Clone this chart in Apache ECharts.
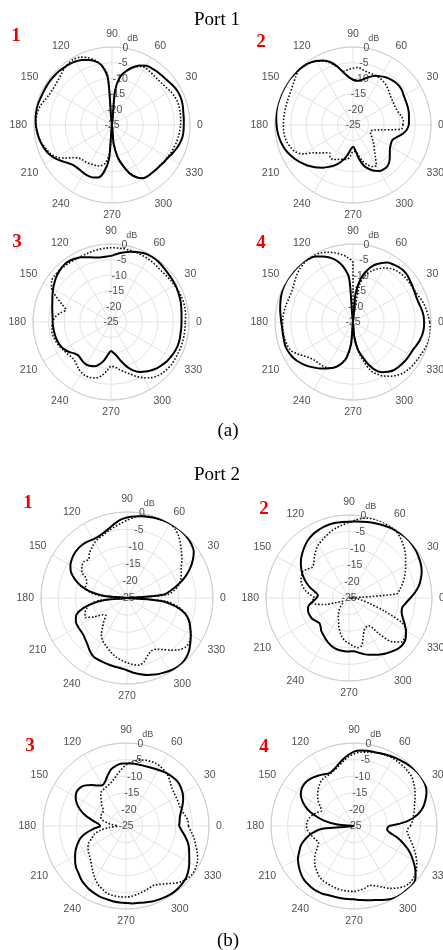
<!DOCTYPE html>
<html><head><meta charset="utf-8">
<script src="https://cdn.jsdelivr.net/npm/echarts@6/dist/echarts.min.js"></script>
<style>html,body{margin:0;padding:0;background:#fff}#c{width:443px;height:950px}</style>
</head><body><div id="c"></div>
<script>
// angle grid (degrees)
const thetaDeg = [0,5,10,15,20,25,30,35,40,45,50,55,60,65,70,75,80,85,90,95,100,105,110,115,120,125,130,135,140,145,150,155,160,165,170,175,180,185,190,195,200,205,210,215,220,225,230,235,240,245,250,255,260,265,270,275,280,285,290,295,300,305,310,315,320,325,330,335,340,345,350,355,360];
const thetaTickLabels = ['0','30','60','90','120','150','180','210','240','270','300','330'];
const rTickLabels = ['-25','-20','-15','-10','-5','0'];

// (a) Port 1
const a1Solid = [-2.0,-1.9,-1.8,-1.5,-1.3,-1.3,-1.5,-1.9,-2.3,-2.5,-2.6,-2.8,
-3.1,-4.0,-5.3,-7.0,-9.0,-14,-25,-10,-5.5,-3.8,-2.8,-2.0,
-1.5,-1.2,-1.0,-0.8,-0.7,-0.6,-0.6,-0.6,-0.5,-0.3,-0.3,-0.4,
-0.6,-0.9,-1.2,-1.6,-2.1,-2.8,-3.8,-5.0,-6.2,-7.0,-7.3,-7.3,
-7.1,-7.0,-7.1,-7.6,-9.5,-14,-25,-19,-14.5,-11.5,-8.5,-6.5,
-5.3,-5.0,-5.0,-4.9,-4.8,-4.5,-4.2,-3.6,-3.0,-2.5,-2.1,-2.0,-2.0];
const a1Dotted = [-3.0,-2.9,-2.8,-2.7,-2.7,-3.0,-3.4,-3.9,-4.2,-4.3,-4.2,-4.0,
-3.8,-4.3,-5.5,-7.2,-9.2,-14,-25,-9,-5.5,-3.5,-2.0,-1.0,
-0.6,-0.8,-1.3,-2.0,-2.5,-2.8,-2.8,-2.6,-2.0,-1.2,-0.8,-0.6,
-0.6,-0.8,-1.2,-1.8,-2.6,-3.2,-4.5,-6.5,-8.7,-10.0,-10.4,-10.5,
-10.7,-11.0,-11.0,-11.5,-12.5,-16,-25,-19,-14.5,-11.5,-8.6,-6.6,
-5.3,-5.0,-5.0,-4.9,-4.9,-4.6,-4.4,-4.1,-3.9,-3.6,-3.4,-3.2,-3.0];
const a2Solid = [-7.1,-7.0,-6.8,-6.6,-6.5,-6.4,-6.2,-5.8,-5.6,-5.7,-6.0,-6.4,
-7.0,-7.6,-8.5,-9.5,-10.4,-10.8,-10.5,-9.6,-8.0,-5.6,-3.5,-2.2,
-1.3,-0.7,-0.4,-0.2,-0.1,0,0,0,0,0,-0.1,-0.3,
-0.5,-0.7,-1.0,-1.4,-1.9,-2.6,-3.4,-4.3,-5.2,-6.2,-7.2,-8.3,
-9.5,-10.7,-12.0,-13.6,-15.4,-17.2,-18.0,-17.0,-14.0,-11.5,-10.0,-8.8,
-8.0,-7.7,-7.8,-8.5,-9.6,-10.6,-11.2,-11.5,-11.4,-10.3,-8.8,-7.7,-7.1];
const a2Dotted = [-9.0,-8.8,-9.2,-9.8,-10.2,-10.3,-10.2,-10.0,-9.6,-9.0,-8.4,-8.0,
-7.7,-7.6,-7.5,-7.4,-7.0,-6.5,-6.8,-7.2,-7.5,-5.8,-3.8,-2.4,
-1.4,-0.7,-0.3,-0.3,-1.0,-1.7,-2.2,-2.5,-2.6,-2.7,-2.7,-2.7,
-2.7,-2.7,-2.8,-3.2,-3.8,-4.6,-6.5,-9.5,-11.0,-12.4,-13.4,-12.2,
-12.3,-12.8,-13.3,-13.6,-13.8,-15.0,-16.5,-16.5,-15.0,-13.0,-11.5,-10.3,
-10.0,-12.5,-14.3,-15.5,-16.5,-17.5,-18.2,-18.8,-19.0,-18.5,-16.0,-9.5,-9.0];
const a3Solid = [-2.4,-2.3,-2.1,-1.8,-1.6,-1.4,-1.2,-1.1,-1.0,-0.8,-0.5,-0.3,
-0.3,-0.6,-1.1,-1.7,-2.4,-3.1,-3.8,-4.0,-4.0,-3.6,-2.9,-2.1,
-1.6,-1.3,-1.3,-1.7,-2.2,-2.9,-3.6,-4.3,-5.0,-5.5,-5.9,-6.2,
-6.3,-6.4,-6.5,-6.6,-6.8,-7.1,-7.6,-8.4,-9.4,-10.0,-9.8,-9.4,
-9.2,-9.4,-9.9,-11.0,-12.6,-14.6,-15.7,-15.0,-13.8,-11.8,-9.6,-7.8,
-6.5,-5.6,-4.8,-4.1,-3.6,-3.1,-2.8,-2.5,-2.3,-2.3,-2.4,-2.4,-2.4];
const a3Dotted = [-1.2,-1.0,-0.9,-0.9,-1.0,-1.2,-1.5,-1.7,-1.9,-2.0,-1.9,-1.7,
-1.5,-1.4,-1.3,-1.2,-1.2,-1.2,-1.2,-1.3,-1.4,-1.6,-1.8,-1.9,
-1.9,-1.8,-1.7,-1.6,-1.6,-1.8,-3.0,-5.5,-8.2,-10.0,-8.5,-7.0,
-6.3,-6.0,-5.8,-6.0,-6.3,-6.7,-7.2,-7.6,-8.0,-8.1,-7.6,-6.8,
-6.2,-5.9,-6.0,-6.4,-7.5,-9.2,-10.8,-10.5,-9.5,-8.5,-7.3,-5.8,
-4.4,-3.2,-2.3,-1.8,-1.5,-1.3,-1.3,-1.3,-1.2,-1.2,-1.2,-1.2,-1.2];
const a4Solid = [-2.2,-2.3,-2.6,-3.0,-3.2,-3.1,-2.8,-2.5,-2.1,-1.9,-2.1,-2.5,
-3.0,-4.2,-5.7,-8.0,-11.0,-16.0,-25,-11.0,-7.0,-4.6,-3.0,-1.8,
-0.8,-0.3,0,0,0,0,0,-0.2,-0.5,-0.9,-1.3,-1.7,
-2.0,-2.2,-2.2,-2.1,-2.0,-2.2,-2.6,-3.2,-4.0,-4.9,-5.9,-6.8,
-7.8,-8.7,-9.8,-11.3,-13.5,-18.0,-25,-20.0,-16.0,-13.5,-10.5,-8.0,
-6.4,-5.5,-4.8,-4.5,-4.3,-4.1,-4.0,-3.8,-3.3,-2.8,-2.4,-2.2,-2.2];
const a4Dotted = [-0.4,-0.8,-1.2,-1.6,-2.2,-2.7,-2.9,-3.0,-3.0,-3.2,-3.5,-4.1,
-5.0,-6.2,-7.6,-9.5,-13.0,-25,-6.0,-4.2,-3.0,-2.0,-1.2,-0.6,
-0.3,-0.3,-0.5,-0.9,-1.5,-2.2,-2.8,-3.1,-3.1,-2.9,-2.7,-2.5,
-2.4,-2.4,-2.4,-2.5,-2.7,-3.2,-4.5,-6.0,-7.0,-7.6,-7.8,-7.9,
-8.1,-8.7,-9.8,-11.5,-14.0,-18.0,-25,-21.0,-16.0,-12.0,-8.5,-6.5,
-5.0,-3.8,-2.8,-2.0,-1.6,-1.3,-1.1,-0.8,-0.4,-0.1,0,-0.2,-0.4];

// (b) Port 2
const b1Solid = [-25,-14.5,-12.0,-9.5,-7.0,-4.8,-2.9,-1.3,-0.6,-0.2,0,0,
0,-0.1,-0.3,-0.6,-0.9,-1.2,-1.6,-2.2,-3.2,-4.2,-4.9,-5.3,
-5.3,-5.0,-4.8,-4.8,-5.0,-5.4,-6.0,-7.0,-8.8,-11.0,-14.0,-18.5,
-25,-18.5,-14.0,-10.8,-9.2,-8.6,-8.5,-8.5,-8.4,-7.9,-7.2,-6.2,
-5.4,-5.2,-5.1,-4.9,-4.7,-4.5,-4.0,-3.2,-2.5,-1.8,-1.3,-0.9,
-0.5,-0.2,-0.2,-0.6,-1.4,-2.5,-3.6,-4.7,-5.8,-7.5,-10.5,-15.0,-25];
const b1Dotted = [-25,-13.0,-10.8,-9.3,-8.3,-7.6,-6.8,-5.5,-4.3,-3.0,-1.6,-0.6,
0,-0.2,-0.3,-0.4,-0.6,-1.5,-2.4,-3.3,-4.0,-4.7,-5.4,-5.8,
-6.3,-7.2,-8.0,-9.2,-8.6,-9.0,-9.8,-12.0,-12.5,-12.5,-13.5,-17.0,
-25,-17.0,-14.0,-12.8,-12.0,-11.6,-14.0,-16.5,-17.0,-15.5,-14.0,-12.0,
-10.8,-10.0,-9.2,-8.3,-7.5,-6.8,-6.2,-5.6,-5.2,-5.8,-7.3,-8.1,
-7.8,-6.7,-5.2,-3.7,-2.8,-2.8,-3.6,-4.8,-6.0,-7.5,-9.8,-13.5,-25];
const b2Solid = [-6.5,-5.0,-3.6,-2.6,-1.7,-1.1,-0.7,-0.3,-0.1,0,-0.1,-0.3,
-0.5,-0.8,-1.1,-1.4,-1.7,-1.9,-2.0,-2.0,-2.0,-2.1,-2.3,-2.6,
-3.0,-3.6,-4.4,-5.3,-6.2,-7.3,-8.5,-9.8,-11.3,-12.9,-14.6,-15.6,
-15.2,-14.2,-12.8,-12.2,-12.0,-12.1,-12.3,-12.9,-13.3,-12.9,-12.0,-11.5,
-10.8,-10.2,-9.6,-9.2,-9.0,-8.9,-8.9,-8.9,-8.3,-7.5,-6.8,-6.1,
-5.4,-4.8,-4.2,-3.7,-3.6,-4.1,-5.2,-6.5,-7.8,-8.6,-8.7,-7.8,-6.5];
const b2Dotted = [-25,-10.5,-9.4,-8.3,-7.3,-6.3,-5.3,-4.2,-3.0,-2.0,-1.1,-0.4,
-0.1,0,0,-0.2,-0.6,-1.4,-2.2,-2.9,-3.5,-4.2,-5.0,-5.8,
-6.5,-7.6,-8.8,-10.0,-10.6,-9.8,-9.0,-9.2,-9.6,-10.5,-11.6,-13.3,
-14.6,-13.8,-14.5,-17.5,-21.0,-22.5,-23.0,-23.0,-22.5,-21.5,-20.5,-19.5,
-18.5,-17.6,-16.0,-14.5,-13.0,-12.0,-11.3,-10.5,-9.8,-10.2,-12.5,-14.2,
-14.8,-14.8,-11.0,-6.3,-4.4,-4.4,-5.1,-7.5,-14.0,-18.5,-21.0,-22.5,-25];
const b3Solid = [-9.0,-8.8,-8.5,-7.8,-6.9,-6.0,-5.3,-4.8,-4.5,-4.6,-4.8,-5.1,
-5.5,-5.8,-6.0,-6.1,-6.1,-6.1,-6.1,-6.2,-6.7,-7.4,-8.8,-10.2,
-10.8,-10.1,-8.9,-7.7,-7.0,-6.9,-7.5,-8.6,-10.2,-12.2,-14.5,-16.5,
-17.2,-15.2,-12.8,-10.8,-9.5,-8.3,-7.3,-6.3,-5.4,-4.8,-4.0,-3.4,
-2.9,-2.6,-2.3,-2.2,-2.0,-1.9,-1.8,-1.6,-1.5,-1.2,-0.9,-0.7,
-0.5,-0.4,-0.5,-0.8,-1.2,-2.0,-3.0,-4.0,-4.8,-5.7,-6.9,-8.1,-9.0];
const b3Dotted = [-6.2,-6.3,-6.9,-7.5,-7.8,-7.7,-7.6,-7.4,-7.0,-6.2,-5.3,-4.7,
-4.3,-4.1,-4.2,-4.4,-4.9,-5.6,-6.6,-8.0,-9.3,-10.5,-11.3,-11.7,
-12.0,-12.2,-13.2,-14.5,-15.5,-16.7,-16.9,-16.8,-16.9,-17.5,-19.0,-21.0,
-22.5,-20.0,-17.0,-15.0,-14.0,-12.5,-11.8,-11.2,-10.7,-10.0,-9.0,-7.8,
-6.5,-5.4,-4.6,-3.9,-3.7,-3.6,-3.6,-3.8,-4.2,-4.6,-5.0,-5.3,
-4.7,-3.8,-2.5,-1.3,-0.6,-0.3,-0.6,-1.2,-2.2,-3.3,-4.2,-5.3,-6.2];
const b4Solid = [-14.5,-9.0,-5.6,-3.5,-2.1,-0.9,-0.2,0,0,-0.2,-0.5,-0.8,
-1.1,-1.4,-1.7,-1.9,-2.0,-2.2,-2.6,-3.6,-4.8,-6.0,-7.0,-7.4,
-7.0,-6.4,-5.9,-5.5,-5.4,-5.7,-6.5,-8.0,-10.0,-12.8,-16.0,-20.0,
-25,-15.5,-12.0,-9.8,-8.0,-6.8,-5.5,-4.6,-3.8,-3.1,-2.7,-2.5,
-2.4,-2.5,-2.8,-2.9,-2.9,-2.9,-2.9,-2.6,-2.3,-1.9,-1.3,-0.6,
-0.1,0,0,0,-0.8,-2.5,-4.5,-6.5,-9.0,-11.5,-14.2,-15.0,-14.5];
const b4Dotted = [-8.0,-7.3,-6.8,-6.2,-5.6,-4.7,-3.8,-3.0,-2.2,-1.9,-1.7,-1.6,
-1.5,-1.6,-1.8,-2.1,-2.4,-2.7,-3.3,-4.2,-5.4,-6.5,-7.3,-7.8,
-7.9,-8.1,-8.8,-9.7,-10.7,-11.8,-13.3,-14.2,-13.2,-12.1,-11.3,-10.8,
-10.7,-10.9,-11.6,-12.2,-12.8,-13.2,-12.3,-10.9,-9.5,-8.3,-7.5,-6.6,
-6.1,-5.9,-5.7,-5.5,-5.4,-5.3,-5.3,-5.6,-6.0,-6.5,-5.8,-4.7,
-3.3,-2.2,-1.3,-1.0,-1.3,-2.0,-3.2,-4.5,-5.9,-7.2,-8.3,-9.0,-8.0];

const panelTags = ['1','2','3','4','1','2','3','4'];
const panelTitles = ['Port 1','Port 2'];
const captions = ['(a)','(b)'];

// layout (positions/sizes only)
const panels = [
  {c:[112,125], R:78, tag:[16,36],  s:a1Solid, d:a1Dotted},
  {c:[353,125], R:78, tag:[261,42], s:a2Solid, d:a2Dotted},
  {c:[111,322], R:78, tag:[17,242], s:a3Solid, d:a3Dotted},
  {c:[353,322], R:78, tag:[261,243],s:a4Solid, d:a4Dotted},
  {c:[127,598], R:86, tag:[28,503], s:b1Solid, d:b1Dotted},
  {c:[349,598], R:83, tag:[264,509],s:b2Solid, d:b2Dotted},
  {c:[126,826], R:83, tag:[30,746], s:b3Solid, d:b3Dotted},
  {c:[354,826], R:83, tag:[264,747],s:b4Solid, d:b4Dotted}
];

const labelFont = 'Liberation Sans';
const gray = '#505050';
const polar = [], angleAxis = [], radiusAxis = [], series = [], graphic = [];

panels.forEach((p, i) => {
  const gi = 2*i, li = 2*i+1;
  polar.push({center: p.c, radius: p.R});
  polar.push({center: p.c, radius: p.R});
  angleAxis.push({
    polarIndex: gi, type: 'value', min: 0, max: 360, interval: 30,
    startAngle: 0, clockwise: false,
    axisLine: {show: true, lineStyle: {color: '#cdcdcd', width: 1}},
    axisTick: {show: false},
    axisLabel: {show: true, margin: 7, color: gray, fontSize: 10.5, fontFamily: labelFont,
      formatter: v => (v >= 360 ? '' : thetaTickLabels[Math.round(v/30)])},
    splitLine: {show: true, lineStyle: {color: '#e3e3e3', width: 1}}
  });
  radiusAxis.push({
    polarIndex: gi, type: 'value', min: -25, max: 0, interval: 5,
    axisLine: {show: false}, axisTick: {show: false}, axisLabel: {show: false},
    splitLine: {show: true, lineStyle: {color: '#e3e3e3', width: 1}}
  });
  angleAxis.push({polarIndex: li, type: 'value', min: 0, max: 360, startAngle: 80, clockwise: false, show: false});
  radiusAxis.push({
    polarIndex: li, type: 'value', min: -25, max: 0, interval: 5,
    name: 'dB', nameLocation: 'end', nameGap: 9,
    nameTextStyle: {fontSize: 9, color: gray, fontFamily: labelFont},
    axisLine: {show: false}, axisTick: {show: false}, splitLine: {show: false},
    axisLabel: {show: true, margin: 0, align: 'center', verticalAlign: 'middle',
      color: gray, fontSize: 10.5, fontFamily: labelFont,
      formatter: v => rTickLabels[Math.round((v + 25)/5)]}
  });
  series.push({
    type: 'line', coordinateSystem: 'polar', polarIndex: gi,
    data: thetaDeg.map((a, k) => [p.d[k], a]),
    showSymbol: false, symbol: 'none', smooth: 0.3, z: 3,
    lineStyle: {color: '#111', width: 1.6, type: [1.6, 1.8]}
  });
  series.push({
    type: 'line', coordinateSystem: 'polar', polarIndex: gi,
    data: thetaDeg.map((a, k) => [p.s[k], a]),
    showSymbol: false, symbol: 'none', smooth: 0.3, z: 4,
    lineStyle: {color: '#000', width: 2}
  });
  graphic.push({type: 'text', x: p.tag[0], y: p.tag[1], z: 10,
    style: {text: panelTags[i], fill: '#ee0000', font: 'bold 19px "Liberation Serif"', align: 'center', verticalAlign: 'middle'}});
});

const textPos = [[217, 20], [217, 475]];
panelTitles.forEach((t, i) => graphic.push({type: 'text', x: textPos[i][0], y: textPos[i][1],
  style: {text: t, fill: '#000', font: '19px "Liberation Serif"', align: 'center', verticalAlign: 'middle'}}));
const capPos = [[228, 431], [228, 941]];
captions.forEach((t, i) => graphic.push({type: 'text', x: capPos[i][0], y: capPos[i][1],
  style: {text: t, fill: '#000', font: '19px "Liberation Serif"', align: 'center', verticalAlign: 'middle'}}));

const chart = echarts.init(document.getElementById('c'), null, {renderer: 'canvas'});
chart.setOption({animation: false, backgroundColor: '#fff', polar, angleAxis, radiusAxis, series, graphic});
</script></body></html>
